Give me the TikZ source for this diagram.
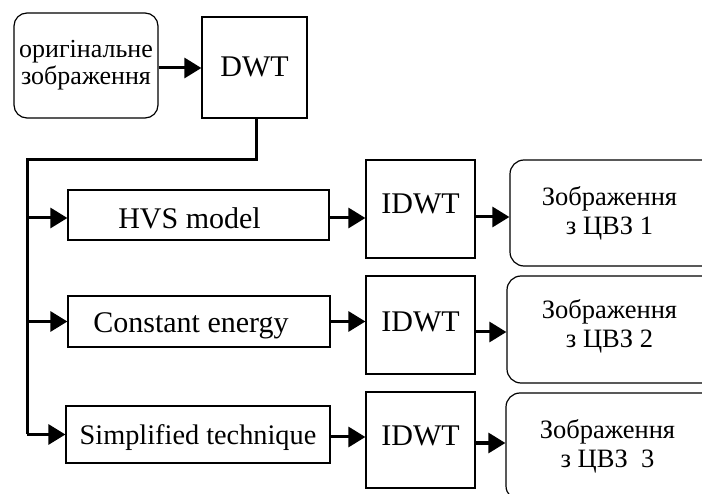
\documentclass[tikz,border=0pt]{standalone}
\usepackage{fontspec}
\setmainfont{Liberation Serif}
\usetikzlibrary{arrows.meta}
\tikzset{
  sqbox/.style={draw, line width=1.2pt, inner sep=0pt, align=center},
  rbox/.style={draw, line width=1.2pt, inner sep=0pt, align=center, rounded corners=14pt},
  conn/.style={line width=3pt},
  arr/.style={conn, -{Triangle[length=17pt,width=20pt]}},
  bigfont/.style={font=\fontsize{30}{32}\selectfont},
  resfont/.style={font=\fontsize{26.5}{29}\selectfont},
}
\begin{document}
\begin{tikzpicture}[x=1pt,y=-1pt]
\useasboundingbox (0,0) rectangle (702,494);
\clip (0,0) rectangle (702,494);
% top row
\node[rbox, rounded corners=13pt, minimum width=144pt, minimum height=105pt,
      font=\fontsize{26}{27}\selectfont] (orig) at (86,65.5) {оригінальне\\зображення};
\node[sqbox, bigfont, minimum width=105pt, minimum height=101pt,
      text height=20pt, text depth=2pt] (dwt) at (254.5,67.5) {DWT};
% middle column
\node[sqbox, bigfont, minimum width=261pt, minimum height=50pt,
      text height=28pt, text depth=0pt] (hvs) at (198.5,215) {HVS model\hspace*{18pt}};
\node[sqbox, bigfont, minimum width=262pt, minimum height=51pt,
      text height=22pt, text depth=0pt] (const) at (199,321.5) {Constant energy\hspace*{16pt}};
\node[sqbox, font=\fontsize{28.3}{30}\selectfont, minimum width=264pt, minimum height=57pt,
      text height=20pt, text depth=0pt] (simp) at (198,434.5) {Simplified technique};
% IDWT
\node[sqbox, bigfont, minimum width=109pt, minimum height=98pt,
      text height=20pt, text depth=11pt] (idwt1) at (420.5,209) {IDWT};
\node[sqbox, bigfont, minimum width=109pt, minimum height=98pt,
      text height=20pt, text depth=7pt] (idwt2) at (420.5,325) {IDWT};
\node[sqbox, bigfont, minimum width=109pt, minimum height=96pt,
      text height=20pt, text depth=8pt] (idwt3) at (420.5,440) {IDWT};
% results (right edges run past the picture's border)
\node[rbox, resfont, minimum width=206pt, minimum height=106pt]
      (res1) at (613,213) {Зображення\hspace*{7pt}\\з ЦВЗ 1\hspace*{7pt}};
\node[rbox, resfont, minimum width=209pt, minimum height=107pt,
      text depth=12pt] (res2) at (611.5,329.5) {Зображення\hspace*{4pt}\\з ЦВЗ 2\hspace*{4pt}};
\node[rbox, resfont, minimum width=210pt, minimum height=107pt]
      (res3) at (611,446.5) {Зображення\hspace*{7pt}\\з ЦВЗ \ 3\hspace*{7pt}};
% connectors
\coordinate (trunk) at (27,160);
\draw[arr] (orig.east |- 0,68) -- (dwt.west |- 0,68);
\draw[conn] (dwt.south -| 256,0) |- (trunk) -- (trunk |- simp.west);
\draw[arr] (trunk |- 0,218) -- (hvs.west |- 0,218);
\draw[arr] (trunk |- const.west) -- (const.west);
\draw[arr] (trunk |- simp.west) -- (simp.west);
\draw[arr] (hvs.east |- 0,218) -- (idwt1.west |- 0,218);
\draw[arr] (const.east) -- (const.east -| idwt2.west);
\draw[arr] (simp.east |- 0,437) -- (idwt3.west |- 0,437);
\draw[arr] (idwt1.east |- 0,217) -- (res1.west |- 0,217);
\draw[arr] (idwt2.east |- 0,332) -- (res2.west |- 0,332);
\draw[arr] (idwt3.east |- 0,443) -- (res3.west |- 0,443);
\end{tikzpicture}
\end{document}
